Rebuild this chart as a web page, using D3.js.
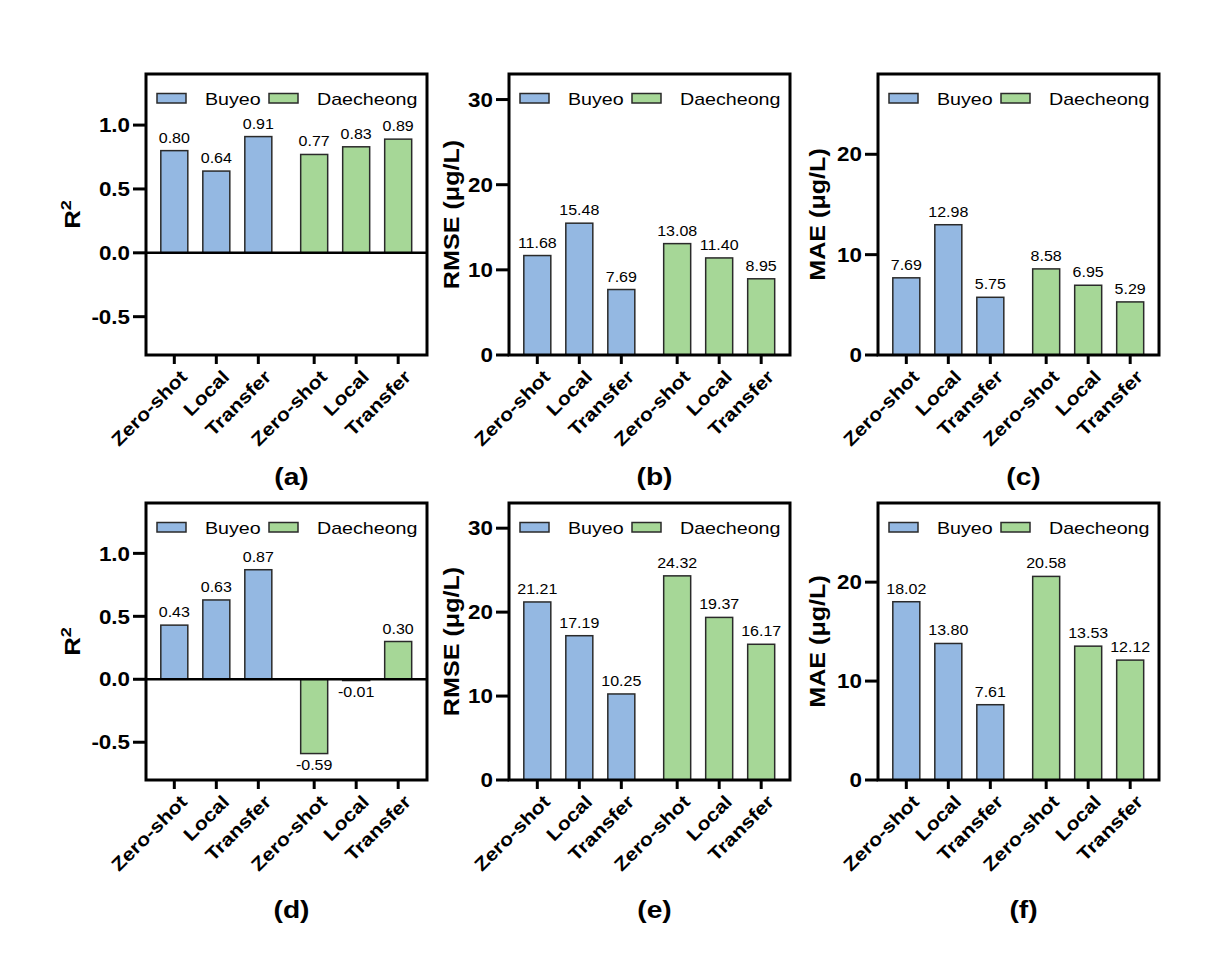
<!DOCTYPE html>
<html>
<head>
<meta charset="utf-8">
<script src="https://cdn.jsdelivr.net/npm/d3@7"></script>
<style>
  html, body { margin: 0; padding: 0; background: #fff; }
  svg { display: block; }
  text { font-family: "Liberation Sans", Arial, Helvetica, sans-serif; fill: #000; }
</style>
</head>
<body>
<svg id="chart" width="1225" height="957"></svg>
<script>
// ---------------- data ----------------
const methods = ["Zero-shot", "Local", "Transfer"];
const sites = ["Buyeo", "Daecheong"];
const siteColors = ["#94b8e2", "#a6d797"];

// values ordered: Buyeo (Zero-shot, Local, Transfer), Daecheong (Zero-shot, Local, Transfer)
const r2Top   = [0.80, 0.64, 0.91, 0.77, 0.83, 0.89];
const rmseTop = [11.68, 15.48, 7.69, 13.08, 11.40, 8.95];
const maeTop  = [7.69, 12.98, 5.75, 8.58, 6.95, 5.29];
const r2Bot   = [0.43, 0.63, 0.87, -0.59, -0.01, 0.30];
const rmseBot = [21.21, 17.19, 10.25, 24.32, 19.37, 16.17];
const maeBot  = [18.02, 13.80, 7.61, 20.58, 13.53, 12.12];

const r2Ticks = [-0.5, 0.0, 0.5, 1.0];
const errTicks = [0, 10, 20, 30];
const maeTicks = [0, 10, 20];
const panelLabels = ["(a)", "(b)", "(c)", "(d)", "(e)", "(f)"];

// ---------------- layout ----------------
const svg = d3.select("#chart");
const colX = [[146, 427], [509, 790], [878, 1159]];
const rowY = [[74, 355], [503, 780]];
const labelY = [485, 918];
const SX = 1.16; // glyph width factor of the reference font

const loc = d3.formatLocale({ decimal: ".", thousands: ",", grouping: [3], currency: ["", ""], minus: "-" });
const f1 = loc.format(".1f"), f2 = loc.format(".2f"), fd = loc.format("d");

const panels = [
  { values: r2Top,   title: "R2",   domain: [-0.8, 1.4], ticks: r2Ticks,  fmt: f1, col: 0, row: 0, zero: true,  tOff: 74 },
  { values: rmseTop, title: "RMSE (μg/L)", domain: [0, 33], ticks: errTicks, fmt: fd, col: 1, row: 0, zero: false, tOff: 58 },
  { values: maeTop,  title: "MAE (μg/L)",  domain: [0, 28], ticks: maeTicks, fmt: fd, col: 2, row: 0, zero: false, tOff: 61 },
  { values: r2Bot,   title: "R2",   domain: [-0.8, 1.4], ticks: r2Ticks,  fmt: f1, col: 0, row: 1, zero: true,  tOff: 74 },
  { values: rmseBot, title: "RMSE (μg/L)", domain: [0, 33], ticks: errTicks, fmt: fd, col: 1, row: 1, zero: false, tOff: 58 },
  { values: maeBot,  title: "MAE (μg/L)",  domain: [0, 28], ticks: maeTicks, fmt: fd, col: 2, row: 1, zero: false, tOff: 61 }
];

function txt(g, x, y, str, opts) {
  const o = Object.assign({ size: 16, weight: "normal", anchor: "middle", rot: 0, sx: SX, dy: null }, opts || {});
  const t = g.append("text")
    .attr("transform", `translate(${x},${y}) rotate(${o.rot}) scale(${o.sx},1)`)
    .attr("x", 0).attr("y", 0)
    .attr("text-anchor", o.anchor)
    .style("font-size", o.size + "px")
    .style("font-weight", o.weight)
    .text(str);
  if (o.dy !== null) t.attr("dy", o.dy);
  return t;
}

// slot positions: three methods per site, with a gap between the two sites
const slots = [];
sites.forEach((s, si) => methods.forEach((m, mi) => slots.push({ site: s, si, method: m, pos: si * 3 + mi + si * 0.33 })));

panels.forEach((p, pi) => {
  const [x0, x1] = colX[p.col];
  const [y0, y1] = rowY[p.row];
  const g = svg.append("g");

  const x = d3.scaleLinear().domain([-0.674, 6.016]).range([x0, x1]);
  const y = d3.scaleLinear().domain(p.domain).range([y1, y0]);
  const barW = 27;

  const data = slots.map((s, i) => Object.assign({}, s, { v: p.values[i] }));

  // bars
  g.selectAll("rect.bar").data(data).enter().append("rect")
    .attr("class", "bar")
    .attr("x", d => x(d.pos) - barW / 2)
    .attr("width", barW)
    .attr("y", d => Math.min(y(d.v), y(0)))
    .attr("height", d => Math.abs(y(d.v) - y(0)))
    .attr("fill", d => siteColors[d.si])
    .attr("stroke", "#2a2a2a")
    .attr("stroke-width", 1.5);

  // value labels
  data.forEach(d => {
    const yl = d.v >= 0 ? y(d.v) - 8 : y(d.v) + 16;
    txt(g, x(d.pos), yl, f2(d.v), { size: 13.8 });
  });

  // zero line
  if (p.zero) {
    g.append("line").attr("x1", x0).attr("x2", x1).attr("y1", y(0)).attr("y2", y(0))
      .attr("stroke", "#000").attr("stroke-width", 2.5);
  }

  // y ticks
  p.ticks.forEach(t => {
    g.append("line").attr("x1", x0 - 13).attr("x2", x0).attr("y1", y(t)).attr("y2", y(t))
      .attr("stroke", "#000").attr("stroke-width", 3);
    txt(g, x0 - 16, y(t), p.fmt(t), { size: 20, weight: "bold", anchor: "end", dy: "0.36em", sx: 1.12 });
  });

  // x ticks and labels
  data.forEach(d => {
    g.append("line").attr("x1", x(d.pos)).attr("x2", x(d.pos)).attr("y1", y1).attr("y2", y1 + 9)
      .attr("stroke", "#000").attr("stroke-width", 3);
    txt(g, x(d.pos) + 14, y1 + 23, d.method, { size: 18.5, weight: "bold", anchor: "end", rot: -45, sx: 1.15 });
  });

  // frame
  g.append("rect").attr("x", x0).attr("y", y0).attr("width", x1 - x0).attr("height", y1 - y0)
    .attr("fill", "none").attr("stroke", "#000").attr("stroke-width", 3);

  // y title
  const cy = (y0 + y1) / 2;
  const tx = x0 - p.tOff + 7.7;
  if (p.title === "R2") {
    const t = txt(g, tx, cy, "R", { size: 22, weight: "bold", rot: -90, sx: 1.17 });
    t.append("tspan").attr("dy", "-0.55em").style("font-size", "15.5px").text("2");
  } else {
    txt(g, tx, cy, p.title, { size: 21.5, weight: "bold", rot: -90, sx: 1.17 });
  }

  // legend
  const legendItems = [{ name: sites[0], c: siteColors[0], dx: 11, tdx: 59 }, { name: sites[1], c: siteColors[1], dx: 123, tdx: 171 }];
  legendItems.forEach(li => {
    g.append("rect").attr("x", x0 + li.dx).attr("y", y0 + 19.5).attr("width", 29).attr("height", 9.5)
      .attr("fill", li.c).attr("stroke", "#2a2a2a").attr("stroke-width", 1.5);
    txt(g, x0 + li.tdx, y0 + 31, li.name, { size: 16.8, anchor: "start", sx: 1.17 });
  });

  // panel label
  txt(g, (x0 + x1) / 2 + 5, labelY[p.row], panelLabels[pi], { size: 24.5, weight: "bold", sx: 1.15 });
});
</script>
</body>
</html>
